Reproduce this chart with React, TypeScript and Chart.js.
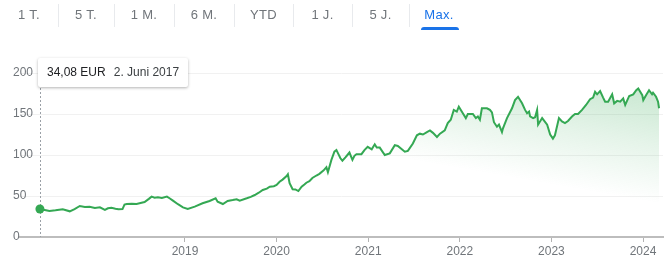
import React, { useEffect, useRef } from "react";
import { Chart, registerables } from "chart.js";

Chart.register(...registerables);

const rangeTabs = ["1 T.", "5 T.", "1 M.", "6 M.", "YTD", "1 J.", "5 J.", "Max."];
const activeTab = 7;
const currency = "EUR";
const monthNamesDe = ["Januar", "Februar", "März", "April", "Mai", "Juni", "Juli", "August", "September", "Oktober", "November", "Dezember"];

const yearTicks = [2019, 2020, 2021, 2022, 2023, 2024];
const yTicks = [0, 50, 100, 150, 200];

const dates = [
  "2017-06-02", "2017-07-10", "2017-08-03", "2017-09-01", "2017-09-29", "2017-10-18", "2017-11-08", "2017-11-28", "2017-12-17",
  "2018-01-07", "2018-01-27", "2018-02-16", "2018-02-28", "2018-03-14", "2018-03-30", "2018-04-11", "2018-04-27", "2018-05-05",
  "2018-05-14", "2018-06-03", "2018-06-22", "2018-07-08", "2018-07-24", "2018-08-10", "2018-08-21", "2018-09-02", "2018-09-15",
  "2018-10-01", "2018-10-21", "2018-11-02", "2018-11-14", "2018-12-04", "2018-12-24",
  "2019-01-12", "2019-02-09", "2019-03-12", "2019-04-09", "2019-05-03", "2019-05-11", "2019-06-01", "2019-06-20", "2019-07-10",
  "2019-07-26", "2019-08-07", "2019-09-04", "2019-09-20", "2019-10-06", "2019-10-22", "2019-11-07", "2019-11-23", "2019-12-05",
  "2019-12-21",
  "2020-01-01", "2020-01-13", "2020-01-25", "2020-02-10", "2020-02-15", "2020-02-22", "2020-03-05", "2020-03-16", "2020-03-28",
  "2020-04-10", "2020-04-21", "2020-04-29", "2020-05-11", "2020-05-23", "2020-06-08", "2020-06-20", "2020-07-06", "2020-07-18",
  "2020-07-24", "2020-08-07", "2020-08-19", "2020-08-27", "2020-09-04", "2020-09-12", "2020-09-20", "2020-10-02", "2020-10-10",
  "2020-10-18", "2020-10-30", "2020-11-07", "2020-11-15", "2020-12-05", "2020-12-17", "2020-12-30",
  "2021-01-15", "2021-01-27", "2021-02-04", "2021-02-16", "2021-03-08", "2021-03-28", "2021-04-17", "2021-04-29", "2021-05-15",
  "2021-05-27", "2021-06-08", "2021-06-28", "2021-07-14", "2021-07-26", "2021-08-07", "2021-08-23", "2021-09-04", "2021-09-16",
  "2021-10-02", "2021-10-14", "2021-11-02", "2021-11-14", "2021-11-26", "2021-12-08", "2021-12-20", "2021-12-28",
  "2022-01-13", "2022-01-25", "2022-02-02", "2022-02-22", "2022-03-06", "2022-03-14", "2022-03-22", "2022-03-30", "2022-04-19",
  "2022-05-01", "2022-05-09", "2022-05-17", "2022-05-29", "2022-06-06", "2022-06-18", "2022-06-22", "2022-07-08", "2022-07-28",
  "2022-08-09", "2022-08-21", "2022-09-06", "2022-09-18", "2022-09-26", "2022-10-04", "2022-10-08", "2022-10-20", "2022-10-28",
  "2022-11-05", "2022-11-09", "2022-11-25", "2022-12-15", "2022-12-27",
  "2023-01-07", "2023-01-15", "2023-01-31", "2023-02-12", "2023-02-24", "2023-03-08", "2023-03-24", "2023-04-05", "2023-04-17",
  "2023-05-03", "2023-05-19", "2023-06-04", "2023-06-16", "2023-06-24", "2023-07-02", "2023-07-14", "2023-07-26", "2023-08-03",
  "2023-08-15", "2023-08-31", "2023-09-08", "2023-09-20", "2023-10-02", "2023-10-14", "2023-10-22", "2023-11-07", "2023-11-23",
  "2023-12-05", "2023-12-13", "2023-12-29",
  "2024-01-02", "2024-01-13", "2024-01-25", "2024-02-06", "2024-02-10", "2024-02-22", "2024-03-01", "2024-03-05",
];

const prices = [
  34.08, 31.7, 32.5, 33.8, 31.3, 34.0, 37.8, 36.5, 37.0,
  35.5, 36.2, 33.0, 35.0, 35.7, 34.5, 33.8, 34.0, 39.5,
  40.2, 40.5, 40.2, 41.5, 42.7, 46.5, 49.2, 48.0, 48.4,
  47.5, 49.2, 47.0, 44.3, 40.0, 36.2,
  34.1, 37.0, 41.1, 43.9, 47.2, 43.0, 40.2, 43.9, 45.0,
  46.0, 44.3, 47.2, 49.0, 51.2, 54.0, 57.3, 59.0, 61.3,
  62.0,
  63.4, 67.4, 70.0, 74.4, 76.5, 65.5, 58.2, 58.0, 56.0,
  61.3, 64.0, 66.2, 68.0, 72.0, 75.0, 77.0, 81.0, 85.0,
  79.0, 94.0, 104.0, 106.0, 101.0, 96.0, 93.0, 97.0, 100.0,
  103.0, 94.0, 99.0, 101.0, 101.0, 106.0, 110.0,
  107.0, 113.0, 109.0, 109.0, 100.0, 102.0, 112.0, 111.0, 107.0,
  104.0, 105.0, 114.0, 124.0, 126.0, 125.0, 128.0, 130.0, 127.0,
  122.0, 126.0, 130.0, 139.0, 143.0, 155.0, 153.0, 159.0,
  151.0, 145.0, 150.0, 150.0, 145.0, 147.0, 143.0, 157.0, 157.0,
  155.0, 152.0, 140.0, 134.5, 137.0, 128.0, 132.5, 145.0, 157.0,
  167.0, 171.0, 163.0, 155.0, 151.0, 153.0, 147.0, 145.0, 146.0,
  155.0, 137.0, 145.0, 137.0, 125.0,
  120.0, 124.0, 145.0, 141.0, 139.0, 141.5, 147.0, 150.0, 150.0,
  155.0, 161.0, 168.0, 170.0, 177.0, 174.0, 178.0, 170.0, 165.0,
  165.0, 174.0, 163.0, 166.0, 165.0, 169.0, 161.0, 172.0, 174.0,
  179.0, 181.0, 173.0,
  167.0, 173.0, 179.0, 174.0, 176.0, 171.0, 165.0, 157.0,
];

function toYear(iso: string): number {
  const [y, m, d] = iso.split("-").map(Number);
  const start = Date.UTC(y, 0, 1);
  const end = Date.UTC(y + 1, 0, 1);
  return y + (Date.UTC(y, m - 1, d) - start) / (end - start);
}

function formatDe(iso: string): string {
  const [y, m, d] = iso.split("-").map(Number);
  return `${d}. ${monthNamesDe[m - 1]} ${y}`;
}

const GREEN = "#34a853";
const TAB_WIDTHS = [58, 56, 60, 60, 59, 59, 57, 60];

export default function App() {
  const canvasRef = useRef<HTMLCanvasElement | null>(null);

  useEffect(() => {
    const canvas = canvasRef.current;
    if (!canvas) return;
    const points = dates.map((d, i) => ({ x: toYear(d), y: prices[i] }));

    const markerPlugin = {
      id: "marker",
      beforeDatasetsDraw(chart: any) {
        const { ctx, chartArea, scales } = chart;
        const x = Math.round(scales.x.getPixelForValue(points[0].x)) + 0.5;
        ctx.save();
        ctx.strokeStyle = "#9aa0a6";
        ctx.lineWidth = 1;
        ctx.setLineDash([2, 2]);
        ctx.beginPath();
        ctx.moveTo(x, 88);
        ctx.lineTo(x, chartArea.bottom);
        ctx.stroke();
        ctx.restore();
      },
    };

    const chart = new Chart(canvas, {
      type: "line",
      data: {
        datasets: [
          {
            data: points,
            borderColor: GREEN,
            borderWidth: 2,
            tension: 0,
            fill: "origin",
            backgroundColor: (ctx: any) => {
              const { chart } = ctx;
              const area = chart.chartArea;
              if (!area) return "rgba(0,0,0,0)";
              // diagonal fade: transparent toward lower-left, light green toward upper-right
              const g = chart.ctx.createLinearGradient(400, 158, 420, 44);
              g.addColorStop(0, "rgba(52,168,83,0)");
              g.addColorStop(0.5, "rgba(52,168,83,0.13)");
              g.addColorStop(1, "rgba(52,168,83,0.28)");
              return g;
            },
            pointRadius: (ctx: any) => (ctx.dataIndex === 0 ? 4.5 : 0),
            pointBackgroundColor: GREEN,
            pointBorderWidth: 0,
            pointHoverRadius: 0,
          },
        ],
      },
      options: {
        animation: false,
        responsive: false,
        maintainAspectRatio: false,
        events: [],
        layout: { padding: { left: 13, top: 73, right: 5, bottom: 0 } },
        plugins: { legend: { display: false }, tooltip: { enabled: false } },
        scales: {
          x: {
            type: "linear",
            min: 2017.199,
            max: 2024.218,
            afterBuildTicks: (s: any) => {
              s.ticks = yearTicks.map((v) => ({ value: v }));
            },
            afterFit: (s: any) => {
              s.height = 25;
            },
            ticks: {
              callback: (v: any) => String(v),
              color: "#70757a",
              font: { family: "'Liberation Sans', Arial, sans-serif", size: 12 },
              maxRotation: 0,
              autoSkip: false,
              padding: 2,
            },
            grid: {
              drawOnChartArea: false,
              tickLength: 5,
              tickColor: "#b3b3b3",
              tickWidth: 1,
            },
            border: { display: true, color: "#bdbdbd", width: 2 },
          },
          y: {
            min: 0,
            max: 200,
            afterBuildTicks: (s: any) => {
              s.ticks = yTicks.map((v) => ({ value: v }));
            },
            afterFit: (s: any) => {
              s.width = 7;
            },
            ticks: {
              color: "#70757a",
              font: { family: "'Liberation Sans', Arial, sans-serif", size: 12 },
              mirror: true,
              crossAlign: "near",
              padding: -7,
            },
            grid: {
              color: (ctx: any) => (ctx.tick && ctx.tick.value === 0 ? "rgba(0,0,0,0)" : "#f1f1f1"),
              drawTicks: false,
              lineWidth: 1,
            },
            border: { display: false },
          },
        },
      },
      plugins: [markerPlugin],
    } as any);

    return () => chart.destroy();
  }, []);

  const tooltipPrice = `${prices[0].toFixed(2).replace(".", ",")} ${currency}`;
  const tooltipDate = formatDe(dates[0]);

  return (
    <div
      style={{
        position: "fixed",
        left: 0,
        top: 0,
        width: 668,
        height: 262,
        background: "#fff",
        overflow: "hidden",
        fontFamily: "'Liberation Sans', Arial, sans-serif",
      }}
    >
      <canvas ref={canvasRef} width={668} height={262} style={{ position: "absolute", left: 0, top: 0, width: 668, height: 262 }} />
      <div style={{ position: "absolute", left: 0, top: 0, display: "flex", height: 31 }}>
        {rangeTabs.map((t, i) => (
          <div
            key={t}
            style={{
              position: "relative",
              width: TAB_WIDTHS[i],
              height: 31,
              boxSizing: "border-box",
              textAlign: "center",
              fontSize: 13,
              letterSpacing: 0.3,
              lineHeight: "31px",
              color: i === activeTab ? "#1a73e8" : "#70757a",
            }}
          >
            {i > 0 && (
              <div style={{ position: "absolute", left: 0, top: 4, width: 1, height: 23, background: "#e8eaed" }} />
            )}
            <span style={{ position: "relative", top: -1 }}>{t}</span>
            {i === activeTab && (
              <div
                style={{
                  position: "absolute",
                  left: 12,
                  top: 27,
                  width: 38,
                  height: 3,
                  background: "#1a73e8",
                  borderRadius: "3px 3px 0 0",
                }}
              />
            )}
          </div>
        ))}
      </div>
      <div
        style={{
          position: "absolute",
          left: 38,
          top: 58,
          width: 150,
          height: 29,
          boxSizing: "border-box",
          background: "#fff",
          borderRadius: 2,
          boxShadow: "0 1px 3px rgba(0,0,0,0.3)",
          fontSize: 12,
          lineHeight: "29px",
          paddingLeft: 9,
          whiteSpace: "nowrap",
        }}
      >
        <span style={{ color: "#202124" }}>{tooltipPrice}</span>
        <span style={{ color: "#3c4043", marginLeft: 8 }}>{tooltipDate}</span>
      </div>
    </div>
  );
}
